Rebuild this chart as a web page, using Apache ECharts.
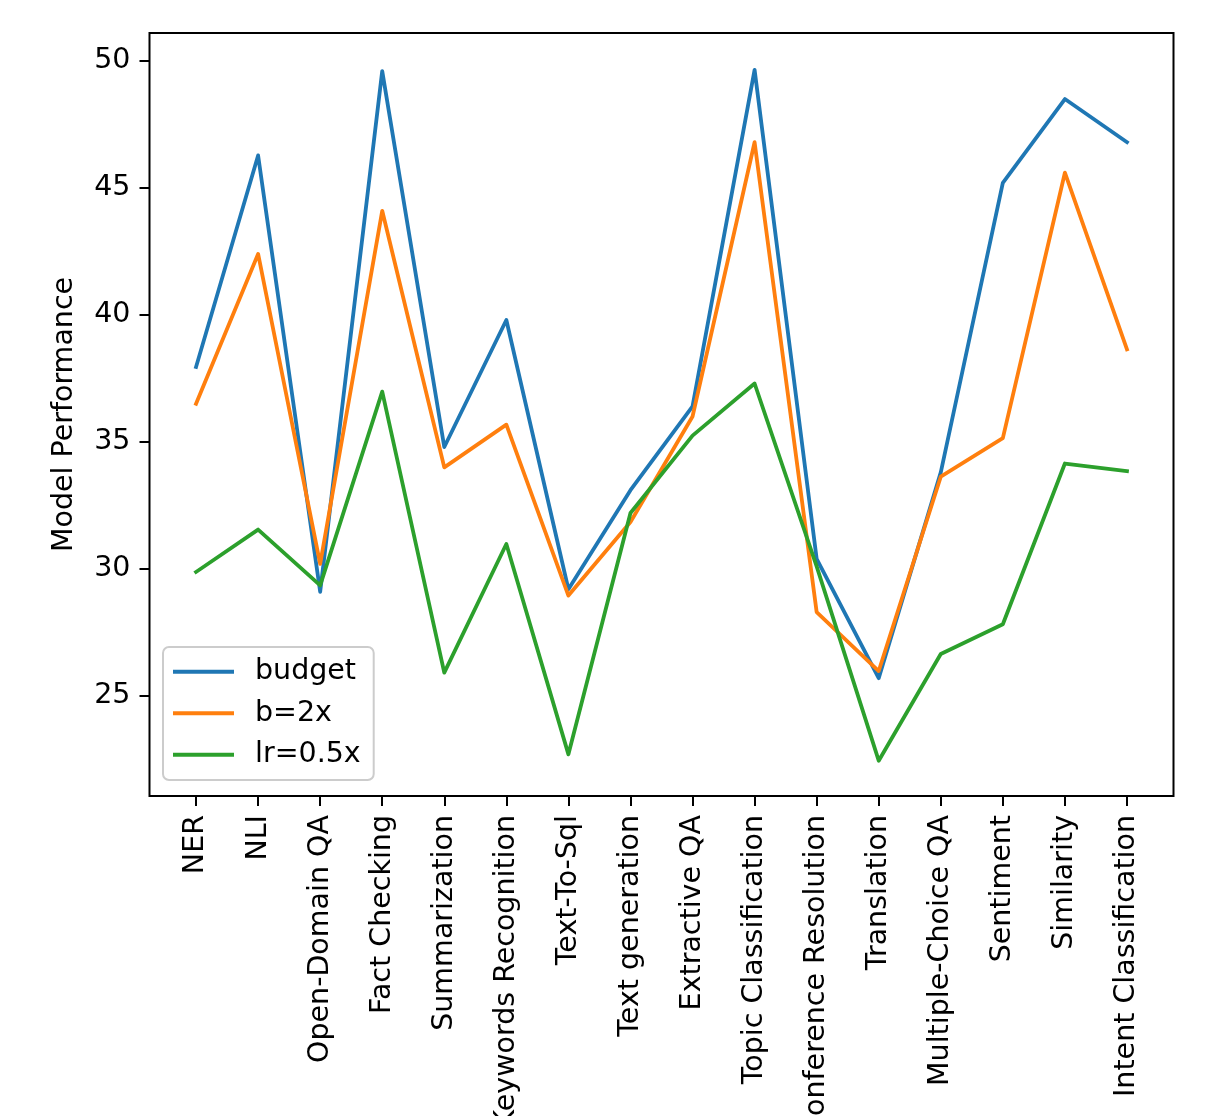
<!DOCTYPE html>
<html>
<head>
<meta charset="utf-8">
<script src="https://cdn.jsdelivr.net/npm/echarts@6/dist/echarts.min.js"></script>
<style>
html,body{margin:0;padding:0;background:#fff;}
#chart{width:1215px;height:1116px;}
</style>
</head>
<body>
<div id="chart"></div>
<script>
const categories = ["NER","NLI","Open-Domain QA","Fact Checking","Summarization","Keywords Recognition","Text-To-Sql","Text generation","Extractive QA","Topic Classification","Conference Resolution","Translation","Multiple-Choice QA","Sentiment","Similarity","Intent Classification"];
const budget = [37.95,46.28,29.1,49.6,34.8,39.8,29.2,33.1,36.4,49.65,30.4,25.7,33.8,45.2,48.5,46.8];
const b2x = [36.5,42.4,30.2,44.1,34.0,35.68,28.95,31.85,36.0,46.8,28.3,25.98,33.63,35.15,45.6,38.65];
const lr05 = [29.88,31.55,29.35,36.98,25.92,30.98,22.7,32.2,35.25,37.3,30.1,22.45,26.65,27.82,34.15,33.85];
const seriesNames = ["budget","b=2x","lr=0.5x"];
const yTicks = [25,30,35,40,45,50];
const colors = ["#1f77b4","#ff7f0e","#2ca02c"];

const FONT = "DejaVu Sans";
const FS = 28.5;
const xIdx = categories.map((_, i) => i);
const toPairs = arr => arr.map((v, i) => [i, v]);

const chart = echarts.init(document.getElementById('chart'), null, {renderer:'canvas'});
chart.setOption({
  backgroundColor: '#ffffff',
  animation: false,
  color: colors,
  textStyle: {fontFamily: FONT, color: '#000'},
  grid: {
    left: 149.5, top: 33, width: 1024, height: 763,
    show: true, borderColor: '#000', borderWidth: 2, backgroundColor: 'transparent',
    containLabel: false, outerBoundsMode: 'none'
  },
  legend: {
    orient: 'vertical', left: 163, top: 647,
    data: seriesNames,
    icon: 'rect', itemWidth: 61, itemHeight: 4, itemGap: 0,
    padding: [4, 13, 4.5, 10],
    backgroundColor: 'rgba(255,255,255,0.8)',
    borderColor: '#cccccc', borderWidth: 2, borderRadius: 6,
    textStyle: {fontFamily: FONT, fontSize: FS, color: '#000', lineHeight: 41.5, padding: [0,0,0,16]}
  },
  xAxis: {
    type: 'value', min: -0.75, max: 15.75,
    splitLine: {show: false},
    axisLine: {show: false, onZero: false},
    axisTick: {show: true, customValues: xIdx, length: 10, inside: false, lineStyle: {color: '#000', width: 2}},
    axisLabel: {
      customValues: xIdx, rotate: 90, margin: 19,
      fontFamily: FONT, fontSize: FS, color: '#000',
      formatter: v => categories[Math.round(v)]
    }
  },
  yAxis: {
    type: 'value', min: 21.06, max: 51.1,
    name: 'Model Performance', nameLocation: 'middle', nameRotate: 90, nameGap: 70,
    nameTextStyle: {fontFamily: FONT, fontSize: FS, color: '#000'},
    splitLine: {show: false},
    axisLine: {show: false, onZero: false},
    axisTick: {show: true, customValues: yTicks, length: 10, inside: false, lineStyle: {color: '#000', width: 2}},
    axisLabel: {customValues: yTicks, margin: 19, fontFamily: FONT, fontSize: FS, color: '#000'}
  },
  series: [budget, b2x, lr05].map((arr, k) => ({
    name: seriesNames[k], type: 'line', data: toPairs(arr),
    showSymbol: false, symbol: 'none',
    lineStyle: {width: 3.8, color: colors[k], join: 'round', cap: 'square'},
    itemStyle: {color: colors[k]},
    emphasis: {disabled: true}
  }))
});
</script>
</body>
</html>
